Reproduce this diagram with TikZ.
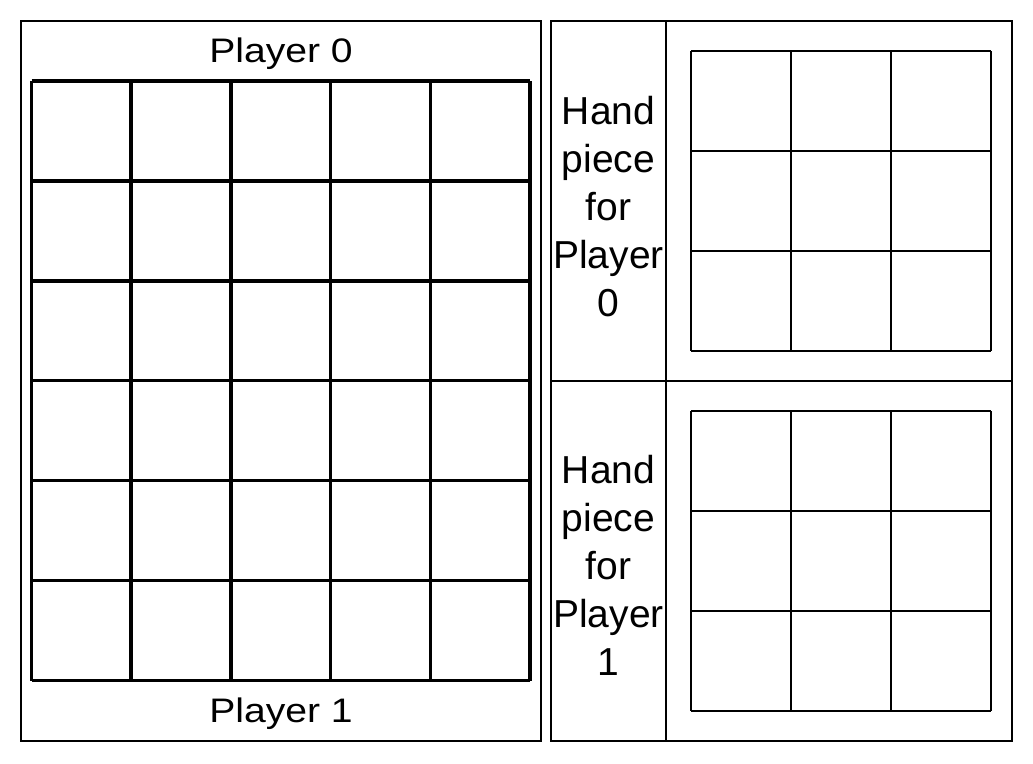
\documentclass[tikz,border=0pt]{standalone}
\usepackage{fontspec}
\setmainfont{Liberation Sans}
\usetikzlibrary{positioning}

\begin{document}
\begin{tikzpicture}[
      x=1pt,
      y=-1pt,
      frame/.style={
          draw,
          line width=1.6pt
        },
      board/.style={
          line width=3.5pt
        },
      hand/.style={
          line width=2pt
        },
      caption/.style={
          font=\fontsize{34}{40}\selectfont,
          inner sep=0pt
        },
      handtext/.style={
          font=\fontsize{39}{48}\selectfont,
          align=center,
          inner sep=0pt
        }
    ]
    \useasboundingbox (0,0) rectangle (1033,763);
    \draw[frame] (21,21) rectangle (541,741);
    \draw[frame] (551,21) rectangle (1012,741);
    \draw[frame] (666,21) -- (666,741);
    \draw[frame] (551,381) -- (1012,381);
    % main board, 5 x 6
    \foreach \c in {0,...,5}
    \draw[board] (31.5+99.7*\c,81) -- (31.5+99.7*\c,680.5);
    \foreach \r in {0,...,6}
    \draw[board] (31.5,81+99.9*\r) -- (530,81+99.9*\r);
    % hand pieces, 3 x 3
    \foreach \y in {51,411}
      {\foreach \i in {0,...,3}
        {\draw[hand] (691+100*\i,\y) -- (691+100*\i,\y+300);
         \draw[hand] (691,\y+100*\i) -- (991,\y+100*\i);}
      }
    \node[caption,anchor=base] (player0) at (281,62.5) {\scalebox{1.15}[1]{Player 0}};
    \node[caption,anchor=base] (player1) at (281,722.5) {\scalebox{1.15}[1]{Player 1}};
    \node[handtext,anchor=north] (hand0) at (608.5,96) {Hand\\piece\\for\\Player\\0};
    \node[handtext,anchor=north] (hand1) at (608.5,455) {Hand\\piece\\for\\Player\\1};
  \end{tikzpicture}
\end{document}
